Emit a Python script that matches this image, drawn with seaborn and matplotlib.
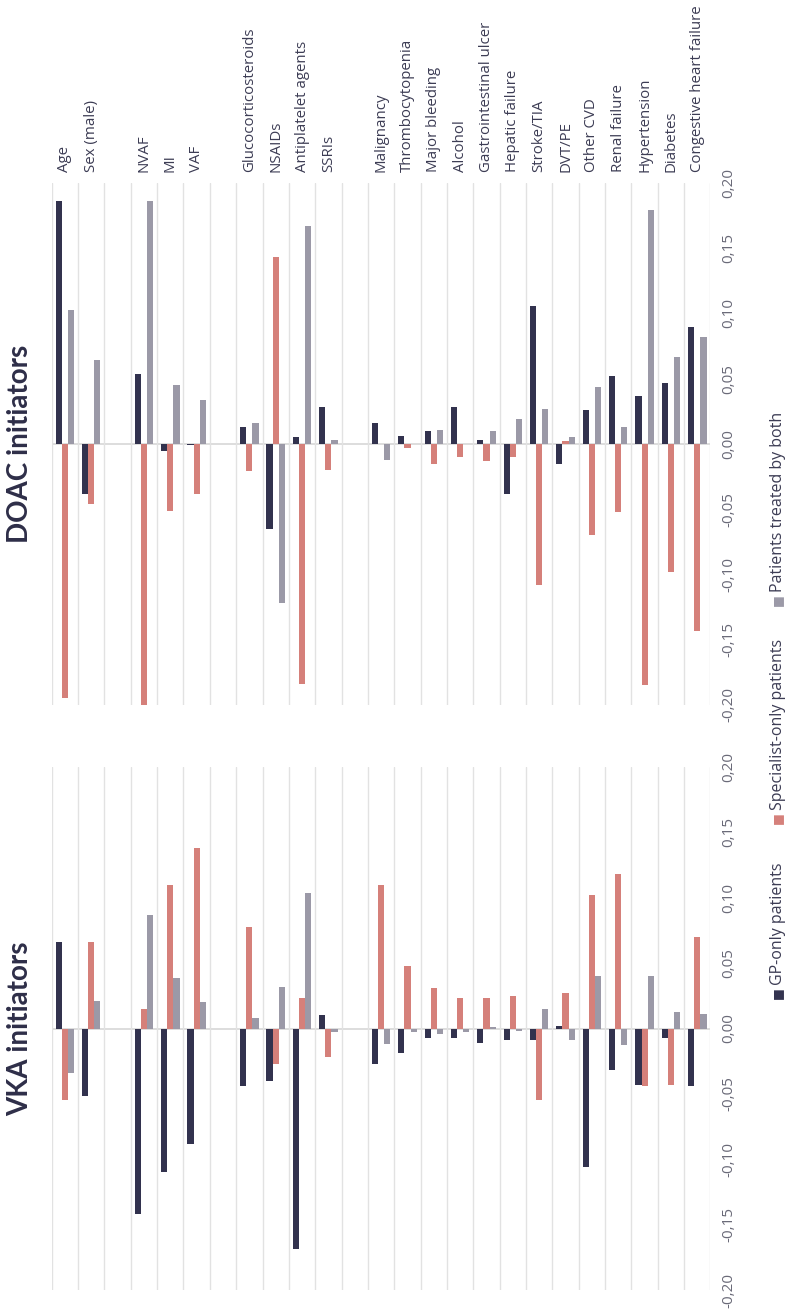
import matplotlib
matplotlib.use("Agg")
import matplotlib.pyplot as plt
import seaborn as sns
import numpy as np
import pandas as pd

# ---------------- data ----------------
categories = ["Age", "Sex (male)", "", "NVAF", "MI", "VAF", " ",
              "Glucocorticosteroids", "NSAIDs", "Antiplatelet agents", "SSRIs", "  ",
              "Malignancy", "Thrombocytopenia", "Major bleeding", "Alcohol",
              "Gastrointestinal ulcer", "Hepatic failure", "Stroke/TIA", "DVT/PE",
              "Other CVD", "Renal failure", "Hypertension", "Diabetes",
              "Congestive heart failure"]
data_categories = [c for c in categories if c.strip()]

series = ["GP-only patients", "Specialist-only patients", "Patients treated by both"]

doac_gp = [0.186, -0.038, 0.054, -0.005, -0.001, 0.013, -0.065, 0.005, 0.028, 0.016, 0.006,
           0.010, 0.028, 0.003, -0.038, 0.106, -0.015, 0.026, 0.052, 0.037, 0.047, 0.090]
doac_spec = [-0.195, -0.046, -0.200, -0.051, -0.038, -0.021, 0.143, -0.184, -0.020, 0.0, -0.003,
             -0.015, -0.010, -0.013, -0.010, -0.108, 0.002, -0.070, -0.052, -0.185, -0.098, -0.143]
doac_both = [0.103, 0.064, 0.186, 0.045, 0.034, 0.016, -0.122, 0.167, 0.003, -0.012, 0.0,
             0.011, 0.0, 0.010, 0.019, 0.027, 0.005, 0.044, 0.013, 0.179, 0.067, 0.082]

vka_gp = [0.066, -0.052, -0.142, -0.110, -0.088, -0.044, -0.040, -0.169, 0.010, -0.027, -0.019,
          -0.007, -0.007, -0.011, -0.009, -0.009, 0.002, -0.106, -0.032, -0.043, -0.007, -0.044]
vka_spec = [-0.055, 0.066, 0.015, 0.110, 0.138, 0.078, -0.027, 0.023, -0.022, 0.110, 0.048,
            0.031, 0.023, 0.023, 0.025, -0.055, 0.027, 0.102, 0.118, -0.044, -0.043, 0.070]
vka_both = [-0.034, 0.021, 0.087, 0.039, 0.020, 0.008, 0.032, 0.104, -0.003, -0.012, -0.003,
            -0.004, -0.003, 0.001, -0.002, 0.015, -0.009, 0.040, -0.013, 0.040, 0.013, 0.011]

y_ticks = [0.20, 0.15, 0.10, 0.05, 0.00, -0.05, -0.10, -0.15, -0.20]

panels = {
    "DOAC initiators": [doac_gp, doac_spec, doac_both],
    "VKA initiators": [vka_gp, vka_spec, vka_both],
}

colors = ["#32324e", "#d5807a", "#9b99a7"]
text_color = "#3c3c54"
tick_color = "#6a6a78"

def long_frame(vals):
    rows = []
    for s, v in zip(series, vals):
        for c, x in zip(data_categories, v):
            rows.append({"category": c, "group": s, "value": x})
    return pd.DataFrame(rows)

# ---------------- figure ----------------
sns.set_theme(style="white")
plt.rcParams["font.family"] = ["Open Sans", "DejaVu Sans"]

W, H = 789, 1316
fig = plt.figure(figsize=(W / 100, H / 100), dpi=100)

ax_left, ax_right = 51.7, 710.5
panel_boxes = {"DOAC initiators": (183, 705), "VKA initiators": (767, 1290)}

for i, (title, vals) in enumerate(panels.items()):
    top, bot = panel_boxes[title]
    ax = fig.add_axes([ax_left / W, 1 - bot / H, (ax_right - ax_left) / W, (bot - top) / H])
    df = long_frame(vals)
    sns.barplot(data=df, x="category", y="value", hue="group", order=categories,
                hue_order=series, palette=colors, width=0.7, dodge=True,
                saturation=1, linewidth=0, legend=False, ax=ax, errorbar=None)
    ax.set_xlim(-0.5, len(categories) - 0.5)
    ax.set_ylim(-0.2, 0.2)
    ax.set_xlabel("")
    ax.set_ylabel("")
    for sp in ax.spines.values():
        sp.set_visible(False)
    # category boundary gridlines
    ax.set_xticks(np.arange(-0.5, len(categories), 1), minor=True)
    ax.grid(False)
    ax.grid(True, which="minor", axis="x", color="#e2e2e2", linewidth=1.0)
    ax.set_axisbelow(True)
    ax.axhline(0, color="#dadada", linewidth=1.3, zorder=0.5)
    # y ticks on right, rotated
    ax.yaxis.tick_right()
    ax.set_yticks(y_ticks)
    ax.set_yticklabels([f"{v:.2f}".replace(".", ",") for v in y_ticks],
                       rotation=90, va="center", fontsize=11, color=tick_color)
    ax.tick_params(axis="y", length=0, pad=8)
    ax.tick_params(axis="x", which="both", length=0)
    if i == 0:
        ax.xaxis.tick_top()
        ax.set_xticks(range(len(categories)))
        ax.set_xticklabels(categories, rotation=90, ha="center", va="bottom",
                           fontsize=10.8, color=text_color)
        ax.tick_params(axis="x", pad=8)
    else:
        ax.set_xticks(range(len(categories)))
        ax.set_xticklabels([])
    # panel title
    zero_y = (top + bot) / 2
    fig.text(20 / W, 1 - zero_y / H, title, rotation=90, ha="center", va="center",
             fontsize=20, fontweight="bold", color="#2e2e48", family=["Lato", "DejaVu Sans"])

# manual rotated legend
legend_items = [(993, series[0], colors[0]), (818, series[1], colors[1]), (600, series[2], colors[2])]
for ypix, label, col in legend_items:
    fig.text(777 / W, 1 - ypix / H, "\u25A0", rotation=90, ha="center", va="center",
             fontsize=9, color=col, family=["DejaVu Sans"])
    fig.text(778 / W, 1 - (ypix - 8) / H, label, rotation=90, rotation_mode="anchor",
             ha="left", va="center", fontsize=11.5, color=text_color)

fig.savefig("out.png", dpi=100)
